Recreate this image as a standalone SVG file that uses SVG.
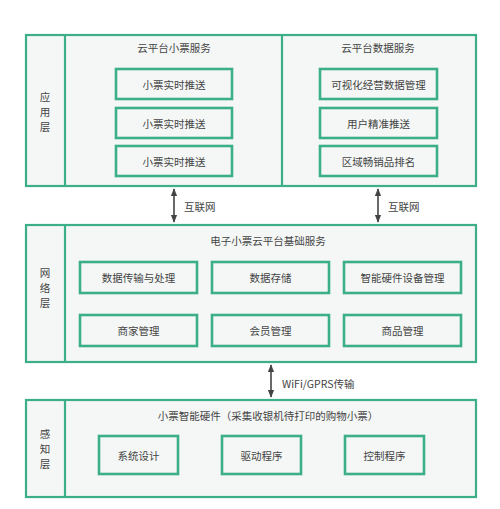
<svg xmlns="http://www.w3.org/2000/svg" width="500" height="509" viewBox="0 0 500 509">
<defs>
<style>
.panel{fill:#f4f7f6;stroke:#3daf88;stroke-width:2.2}
.box{fill:#f4f7f6;stroke:#3daf88;stroke-width:2.6}
.div{stroke:#3daf88;stroke-width:2.2}
text{font-family:"Noto Sans CJK SC","Liberation Sans",sans-serif;font-size:10.5px;fill:#444;text-anchor:middle;dominant-baseline:central}
.lbl{text-anchor:start}
.conn{stroke:#444;stroke-width:1.6;fill:none;marker-start:url(#ah);marker-end:url(#ah)}
</style>
<marker id="ah" viewBox="0 0 10 10" refX="9" refY="5" markerWidth="5" markerHeight="5" orient="auto-start-reverse">
<path d="M0,1 L10,5 L0,9 z" fill="#444"/>
</marker>
</defs>
<rect width="500" height="509" fill="#fff"/>
<g id="app-layer">
<rect class="panel" x="26" y="35" width="450" height="151"/>
<line class="div" x1="65" y1="35" x2="65" y2="186"/>
<line class="div" x1="282" y1="35" x2="282" y2="186"/>
<text x="45" y="96">应</text><text x="45" y="111">用</text><text x="45" y="126">层</text>
</g>
<g id="cloud-ticket">
<text x="174" y="47">云平台小票服务</text>
</g>
<g id="push1"><rect class="box" x="116" y="69" width="116" height="30"/><text x="174" y="84">小票实时推送</text></g>
<g id="push2"><rect class="box" x="116" y="108" width="116" height="30"/><text x="174" y="123">小票实时推送</text></g>
<g id="push3"><rect class="box" x="116" y="146" width="116" height="30"/><text x="174" y="161">小票实时推送</text></g>
<g id="cloud-data">
<text x="378" y="47">云平台数据服务</text>
</g>
<g id="visual"><rect class="box" x="320" y="69" width="117" height="30"/><text x="378.5" y="84">可视化经营数据管理</text></g>
<g id="userpush"><rect class="box" x="320" y="108" width="117" height="30"/><text x="378.5" y="123">用户精准推送</text></g>
<g id="rank"><rect class="box" x="320" y="146" width="117" height="30"/><text x="378.5" y="161">区域畅销品排名</text></g>

<g id="net-layer">
<rect class="panel" x="26" y="225" width="450" height="137"/>
<line class="div" x1="65" y1="225" x2="65" y2="362"/>
<text x="45" y="272">网</text><text x="45" y="287">络</text><text x="45" y="302">层</text>
<text x="268" y="240">电子小票云平台基础服务</text>
</g>
<g id="transfer"><rect class="box" x="80" y="262" width="117" height="31"/><text x="138.5" y="277.5">数据传输与处理</text></g>
<g id="storage"><rect class="box" x="212" y="262" width="117" height="31"/><text x="270.5" y="277.5">数据存储</text></g>
<g id="device"><rect class="box" x="344" y="262" width="117" height="31"/><text x="402.5" y="277.5">智能硬件设备管理</text></g>
<g id="merchant"><rect class="box" x="80" y="315" width="117" height="31"/><text x="138.5" y="330.5">商家管理</text></g>
<g id="member"><rect class="box" x="212" y="315" width="117" height="31"/><text x="270.5" y="330.5">会员管理</text></g>
<g id="goods"><rect class="box" x="344" y="315" width="117" height="31"/><text x="402.5" y="330.5">商品管理</text></g>

<g id="sense-layer">
<rect class="panel" x="26" y="400" width="450" height="97"/>
<line class="div" x1="65" y1="400" x2="65" y2="497"/>
<text x="45" y="433">感</text><text x="45" y="448">知</text><text x="45" y="463">层</text>
<text x="268" y="415">小票智能硬件（采集收银机待打印的购物小票）</text>
</g>
<g id="sysdesign"><rect class="box" x="99" y="436" width="79" height="38"/><text x="138.5" y="455">系统设计</text></g>
<g id="driver"><rect class="box" x="222" y="436" width="79" height="38"/><text x="261.5" y="455">驱动程序</text></g>
<g id="control"><rect class="box" x="345" y="436" width="79" height="38"/><text x="384.5" y="455">控制程序</text></g>

<g id="connectors">
<line class="conn" x1="174" y1="189" x2="174" y2="222"/>
<line class="conn" x1="378" y1="189" x2="378" y2="222"/>
<line class="conn" x1="271" y1="365" x2="271" y2="397"/>
<text class="lbl" x="184" y="206">互联网</text>
<text class="lbl" x="388" y="206">互联网</text>
<text class="lbl" x="282" y="383">WiFi/GPRS传输</text>
</g>
</svg>
